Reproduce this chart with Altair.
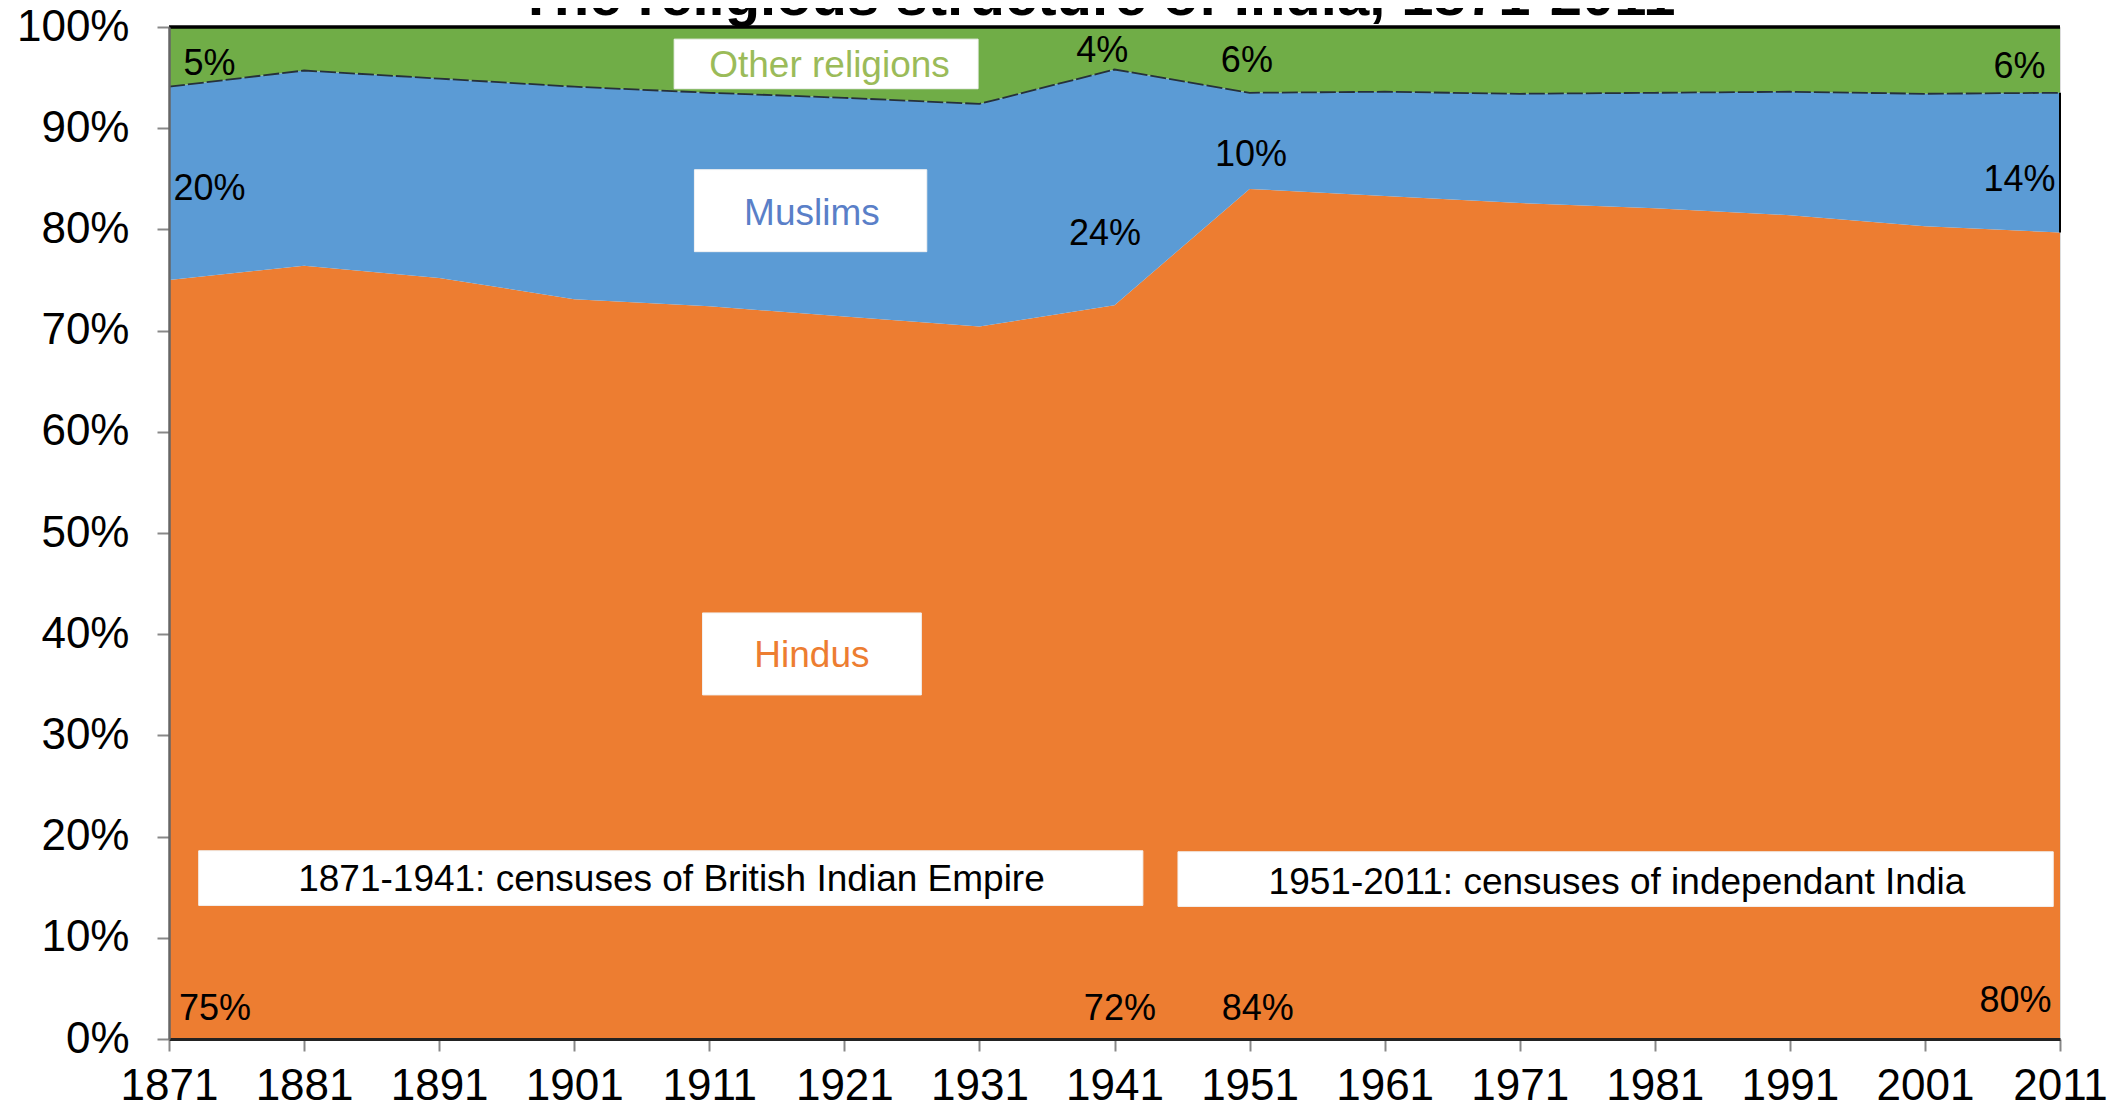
import altair as alt
import pandas as pd

# ---------------- data ----------------
years = [1871, 1881, 1891, 1901, 1911, 1921, 1931, 1941, 1951, 1961, 1971, 1981, 1991, 2001, 2011]
hindus = [75.0, 76.4, 75.2, 73.1, 72.4, 71.4, 70.4, 72.5, 84.0, 83.3, 82.6, 82.1, 81.4, 80.3, 79.7]
muslims = [19.1, 19.3, 19.7, 21.0, 21.1, 21.6, 22.0, 23.3, 9.5, 10.3, 10.8, 11.4, 12.2, 13.1, 13.8]
others = [5.9, 4.3, 5.1, 5.9, 6.5, 7.0, 7.6, 4.2, 6.5, 6.4, 6.6, 6.5, 6.4, 6.6, 6.5]

series_names = ["Hindus", "Muslims", "Other religions"]
series_colors = ["#ED7D31", "#5B9BD5", "#70AD47"]

y_ticks = [0, 10, 20, 30, 40, 50, 60, 70, 80, 90, 100]

# percent labels: text, year, percent
pct_texts = ["5%", "20%", "75%", "4%", "24%", "72%", "6%", "10%", "84%", "6%", "14%", "80%"]
pct_years = [1874.0, 1874.0, 1874.4, 1940.1, 1940.3, 1941.4, 1950.8, 1951.1, 1951.6, 2008.0, 2008.0, 2007.7]
pct_values = [96.3, 84.0, 3.0, 97.6, 79.5, 3.0, 96.6, 87.4, 3.0, 96.0, 84.9, 3.8]

# annotation boxes
box_texts = ["Other religions", "Muslims", "Hindus",
             "1871-1941: censuses of British Indian Empire",
             "1951-2011: censuses of independant India"]
box_x1 = [1908.4, 1909.9, 1910.5, 1873.2, 1945.7]
box_x2 = [1930.9, 1927.1, 1926.7, 1943.1, 2010.5]
box_y1 = [93.9, 77.8, 34.0, 13.2, 13.1]
box_y2 = [98.8, 85.9, 42.1, 18.6, 18.5]
box_tx = [1919.9, 1918.6, 1918.6, 1908.2, 1978.2]
box_ty = [96.1, 81.5, 37.8, 15.7, 15.4]
box_colors = ["#9BBB59", "#5A7FC8", "#ED7D31", "#000000", "#000000"]

title_text = "The religious structure of India, 1871-2011"
title_year = 1939.7
title_pct = 101.2

# ---------------- frames ----------------
rows = []
for i, yr in enumerate(years):
    lo = 0.0
    for name, vals in zip(series_names, [hindus, muslims, others]):
        hi = lo + vals[i]
        if name == "Other religions":
            hi = 100.0
        rows.append({"year": yr, "series": name, "lo": lo, "hi": hi})
        lo = hi
df = pd.DataFrame(rows)

top_df = pd.DataFrame({"year": years, "top": [h + m for h, m in zip(hindus, muslims)]})
pct_df = pd.DataFrame({"t": pct_texts, "year": pct_years, "v": pct_values})
box_df = pd.DataFrame({"t": box_texts, "x1": box_x1, "x2": box_x2, "y1": box_y1,
                       "y2": box_y2, "tx": box_tx, "ty": box_ty, "c": box_colors})
title_df = pd.DataFrame({"t": [title_text], "year": [title_year], "v": [title_pct]})
border_df = pd.DataFrame({"x1": [years[0]], "x2": [years[-1]], "y": [100]})
right_df = pd.DataFrame({"x": [years[-1]], "y1": [hindus[-1]], "y2": [hindus[-1] + muslims[-1]]})

FONT = "Liberation Sans"

xscale = alt.Scale(domain=[years[0], years[-1]], nice=False, zero=False)
yscale = alt.Scale(domain=[0, 100], nice=False)

x_axis = alt.Axis(values=years, format="d", labelFontSize=44, labelFont=FONT,
                  labelColor="#000000", domainColor="#222222", domainWidth=3,
                  tickColor="#888888", tickWidth=2, tickSize=12, labelPadding=13,
                  grid=False, title=None, zindex=1, labelFlush=False, labelOverlap=False)
y_axis = alt.Axis(values=y_ticks, labelExpr="datum.value + '%'", labelFontSize=44,
                  labelFont=FONT, labelColor="#000000", domainColor="#666666",
                  domainWidth=2.5, tickColor="#888888", tickWidth=2, tickSize=12,
                  labelPadding=28, grid=False, title=None, zindex=1)

areas = alt.Chart(df).mark_area(opacity=1, interpolate="linear").encode(
    x=alt.X("year:Q", scale=xscale, axis=x_axis),
    y=alt.Y("lo:Q", scale=yscale, axis=y_axis),
    y2="hi:Q",
    color=alt.Color("series:N", scale=alt.Scale(domain=series_names, range=series_colors), legend=None),
    detail="series:N",
)

boundary = alt.Chart(top_df).mark_line(color="#26303a", strokeWidth=1.8, strokeDash=[16, 3]).encode(
    x=alt.X("year:Q", scale=xscale),
    y=alt.Y("top:Q", scale=yscale),
)

top_border = alt.Chart(border_df).mark_rule(color="#000000", strokeWidth=3.5).encode(
    x=alt.X("x1:Q", scale=xscale), x2="x2:Q", y=alt.Y("y:Q", scale=yscale)
)

right_border = alt.Chart(right_df).mark_rule(color="#000000", strokeWidth=2).encode(
    x=alt.X("x:Q", scale=xscale), y=alt.Y("y1:Q", scale=yscale), y2="y2:Q"
)

boxes = alt.Chart(box_df).mark_rect(fill="#FFFFFF", stroke="#F2F2F2", strokeWidth=1).encode(
    x=alt.X("x1:Q", scale=xscale), x2="x2:Q",
    y=alt.Y("y1:Q", scale=yscale), y2="y2:Q",
)

box_text = alt.Chart(box_df).mark_text(font=FONT, fontSize=37, align="center", baseline="middle").encode(
    x=alt.X("tx:Q", scale=xscale),
    y=alt.Y("ty:Q", scale=yscale),
    text="t:N",
    color=alt.Color("c:N", scale=None),
)

pct_text = alt.Chart(pct_df).mark_text(font=FONT, fontSize=36, align="center", baseline="middle",
                                       color="#000000").encode(
    x=alt.X("year:Q", scale=xscale),
    y=alt.Y("v:Q", scale=yscale),
    text="t:N",
)

title = alt.Chart(title_df).mark_text(font=FONT, fontSize=58, fontWeight="bold", align="center",
                                      baseline="alphabetic", color="#000000").encode(
    x=alt.X("year:Q", scale=xscale),
    y=alt.Y("v:Q", scale=yscale),
    text="t:N",
)

chart = alt.layer(areas, boundary, top_border, right_border, boxes, box_text, pct_text, title).properties(
    width=1891,
    height=1012,
    autosize=alt.AutoSizeParams(type="none"),
    padding={"left": 161, "top": 19, "right": 52, "bottom": 68},
).configure_view(stroke=None).configure(background="#FFFFFF")

chart.save("out.html", embed_options={"renderer": "svg", "actions": False})
